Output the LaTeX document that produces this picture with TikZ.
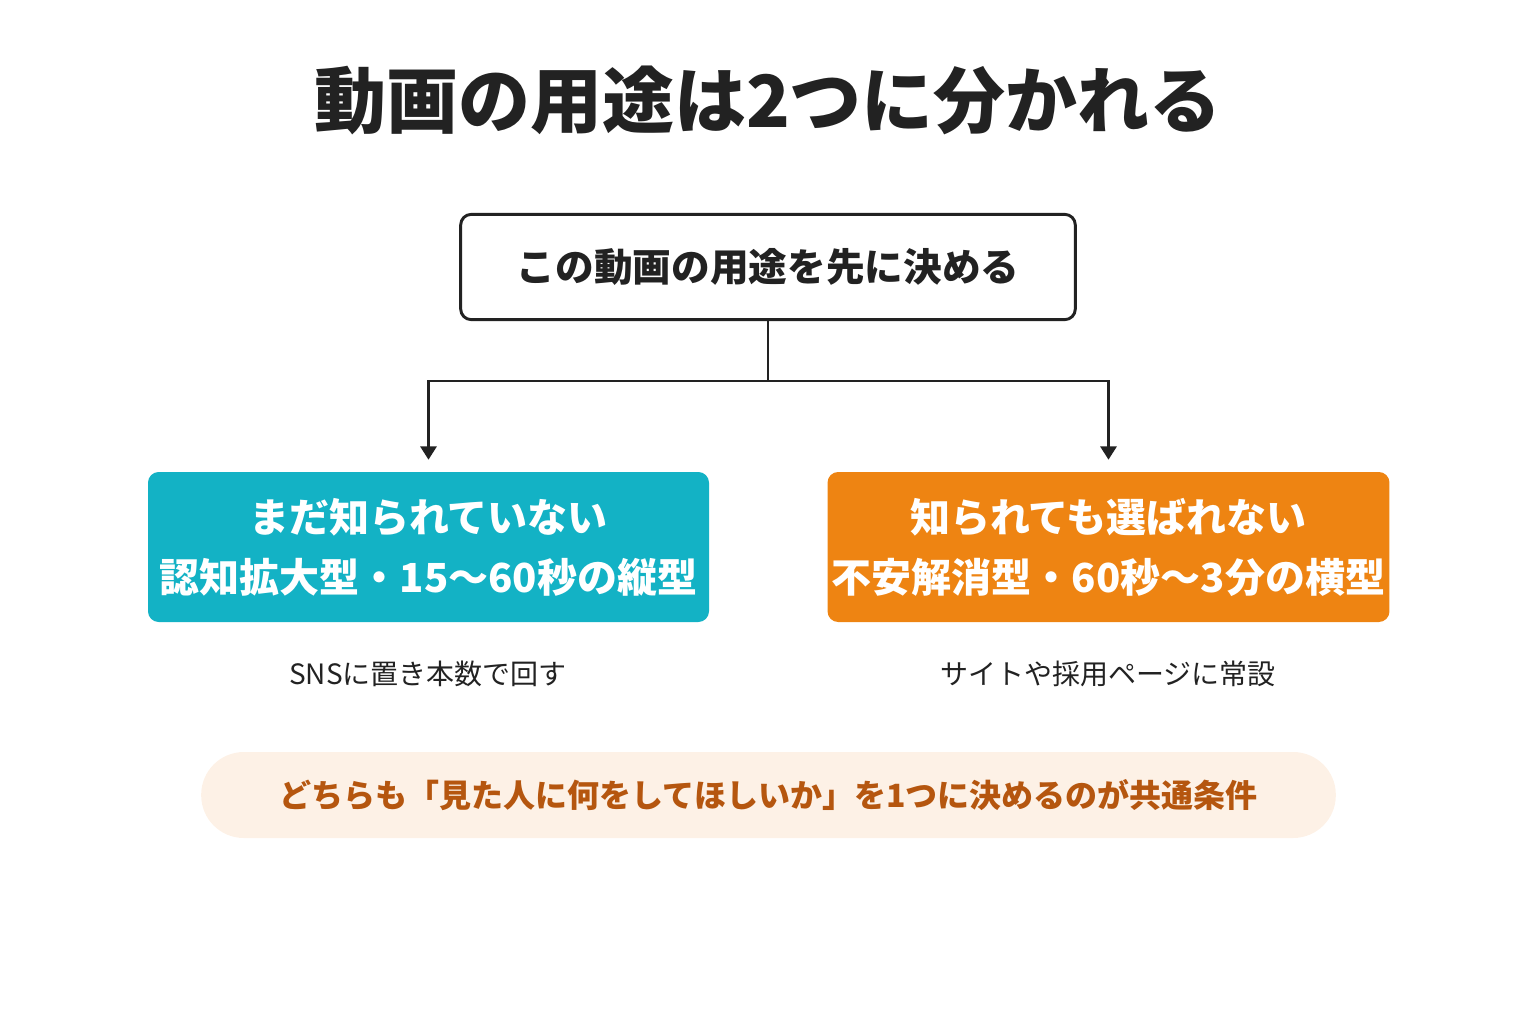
\documentclass[tikz,border=0pt]{standalone}
\usepackage{fontspec}
\setmainfont{Noto Sans CJK JP}
\usetikzlibrary{arrows.meta,positioning}
\definecolor{ink}{HTML}{222222}
\definecolor{teal}{HTML}{13B2C5}
\definecolor{orng}{HTML}{EE8412}
\definecolor{cream}{HTML}{FDF1E6}
\definecolor{brwn}{HTML}{B5560F}
\begin{document}
\begin{tikzpicture}
[x=0.75pt,y=-0.75pt,
edge/.style={ink,line width=2.2pt,-{Triangle[length=10pt,width=12pt]},shorten >=9pt},
kind/.style={rounded corners=8pt,minimum width=420.75pt,minimum height=112.5pt,align=center,text=white,font=\fontsize{30}{45}\selectfont\bfseries},
note/.style={ink,font=\fontsize{21}{25}\selectfont}]
\useasboundingbox (0,0) rectangle (1536,1024);
%%
\node[ink,font=\fontsize{54}{60}\selectfont\bfseries] (title) at (768,100) {動画の用途は2つに分かれる};
\node[draw=ink,line width=2.2pt,rounded corners=8pt,minimum width=461pt,minimum height=79pt,
  font=\fontsize{29}{34}\selectfont\bfseries,ink] (goal) at (768,267) {この動画の用途を先に決める};
%%
\node[kind,fill=teal] (aware) at (428.5,547) {まだ知られていない\\認知拡大型・15〜60秒の縦型};
\node[kind,fill=orng] (trust) at (1108.5,547) {知られても選ばれない\\不安解消型・60秒〜3分の横型};
\node[note] (awaresub) at (428,674) {SNSに置き本数で回す};
\node[note] (trustsub) at (1108,674) {サイトや採用ページに常設};
%%
\node[fill=cream,rounded corners=32pt,minimum width=851pt,minimum height=64.5pt,
  text=brwn,font=\fontsize{24}{28}\selectfont\bfseries] (rule) at (768.5,795) {どちらも「見た人に何をしてほしいか」を1つに決めるのが共通条件};
%%
\coordinate (split) at (768,381);
\draw[ink,line width=2.2pt] (goal.south) -- (split);
\draw[edge] (split) -| (aware.north);
\draw[edge] (split) -| (trust.north);
\end{tikzpicture}
\end{document}
